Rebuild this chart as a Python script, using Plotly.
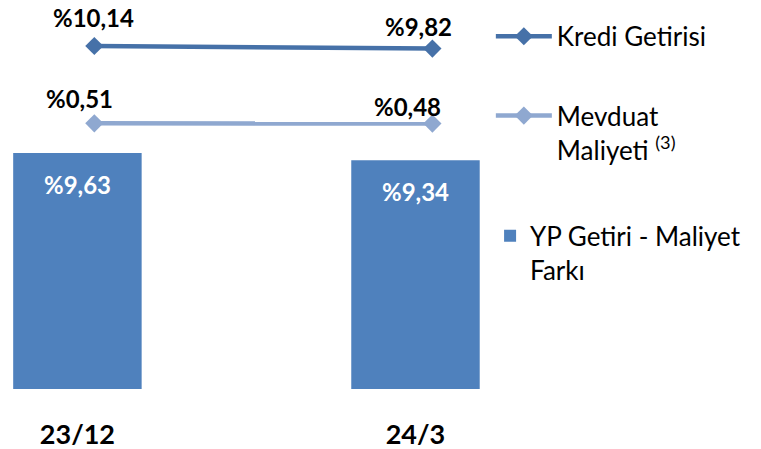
import plotly.graph_objects as go

# data
periods = ['23/12', '24/3']
kredi_getirisi = [10.14, 9.82]
mevduat_maliyeti = [0.51, 0.48]
yp_fark = [9.63, 9.34]


def pct(v):
    return '%' + f'{v:.2f}'.replace('.', ',')


FONT = 'Lato, "Open Sans", sans-serif'
BAR_BLUE = '#4F81BD'
KREDI_BLUE = '#4671A8'
MEVDUAT_BLUE = '#8FA8D0'

fig = go.Figure()

fig.add_trace(go.Bar(
    x=periods,
    y=yp_fark,
    name='YP Getiri - Maliyet<br>Farkı',
    marker=dict(color=BAR_BLUE, line=dict(width=0)),
    legend='legend3',
    hoverinfo='skip'
))

fig.add_trace(go.Scatter(
    x=periods,
    y=kredi_getirisi,
    name='Kredi Getirisi',
    mode='lines+markers',
    line=dict(color=KREDI_BLUE, width=4.5),
    marker=dict(symbol='diamond', size=14, color=KREDI_BLUE),
    xaxis='x2',
    yaxis='y2',
    legend='legend',
    hoverinfo='skip'
))

fig.add_trace(go.Scatter(
    x=periods,
    y=mevduat_maliyeti,
    name='Mevduat<br>Maliyeti <sup>(3)</sup>',
    mode='lines+markers',
    line=dict(color=MEVDUAT_BLUE, width=4.5),
    marker=dict(symbol='diamond', size=14, color=MEVDUAT_BLUE),
    xaxis='x2',
    yaxis='y2',
    legend='legend2',
    hoverinfo='skip'
))

annotations = []
# value labels on the lines
kredi_shift = [(-1, 29), (-14, 22)]
mevduat_shift = [(-15, 25), (-25, 17)]
for series, shifts in ((kredi_getirisi, kredi_shift), (mevduat_maliyeti, mevduat_shift)):
    for p, v, (dx, dy) in zip(periods, series, shifts):
        annotations.append(dict(
            x=p, y=v, xref='x2', yref='y2', text=pct(v), showarrow=False,
            xshift=dx, yshift=dy,
            font=dict(family=FONT, size=24, color='black', weight='bold')
        ))
# labels inside the bars
for p, v in zip(periods, yp_fark):
    annotations.append(dict(
        x=p, y=v, xref='x', yref='y', text=pct(v), showarrow=False,
        yshift=-31,
        font=dict(family=FONT, size=24, color='white', weight='bold')
    ))

legend_style = dict(
    font=dict(family=FONT, size=26, color='black'),
    bgcolor='rgba(0,0,0,0)',
    valign='top',
    xanchor='left',
    yanchor='top',
    itemclick=False,
    itemdoubleclick=False
)

fig.update_layout(
    width=761,
    height=449,
    margin=dict(l=0, r=0, t=0, b=60, autoexpand=False),
    plot_bgcolor='white',
    paper_bgcolor='white',
    bargap=0.62,
    showlegend=True,
    annotations=annotations,
    legend=dict(x=0.645, y=0.967, itemwidth=56, **legend_style),
    legend2=dict(x=0.645, y=0.763, itemwidth=56, **legend_style),
    legend3=dict(x=0.644, y=0.454, itemwidth=30, **legend_style),
    xaxis=dict(
        type='category',
        range=[-0.229, 2.022],
        showgrid=False, zeroline=False, showline=False,
        ticks='outside', ticklen=22, tickcolor='rgba(0,0,0,0)',
        tickfont=dict(family=FONT, size=27, color='black', weight='bold')
    ),
    xaxis2=dict(
        type='category',
        overlaying='x',
        range=[-0.279, 1.972],
        visible=False
    ),
    yaxis=dict(range=[0, 15.88], visible=False),
    yaxis2=dict(range=[-32.58, 15.87], overlaying='y', visible=False)
)

fig.write_html('out.html', config={'displayModeBar': False},
               post_script="document.body.style.margin='0';")
